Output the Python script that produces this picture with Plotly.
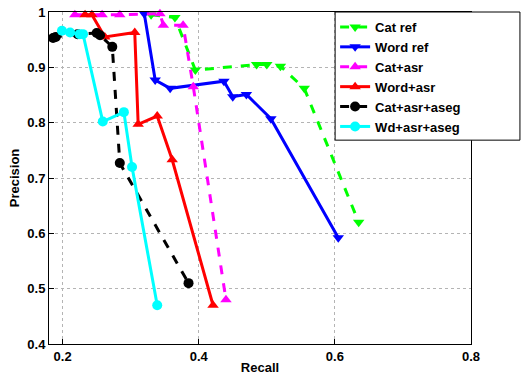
import plotly.graph_objects as go

# Data (Recall, Precision)
cat_ref_x = [0.33, 0.365, 0.395, 0.485, 0.50, 0.52, 0.555, 0.635]
cat_ref_y = [0.995, 0.99, 0.895, 0.905, 0.905, 0.902, 0.862, 0.62]

word_ref_x = [0.32, 0.336, 0.358, 0.437, 0.45, 0.47, 0.506, 0.605]
word_ref_y = [0.997, 0.877, 0.862, 0.875, 0.847, 0.851, 0.807, 0.592]

cat_asr_x = [0.218, 0.258, 0.284, 0.343, 0.348, 0.377, 0.392, 0.44]
cat_asr_y = [0.995, 0.995, 0.995, 0.997, 0.976, 0.976, 0.865, 0.48]

word_asr_x = [0.233, 0.243, 0.262, 0.306, 0.311, 0.339, 0.361, 0.421]
word_asr_y = [0.995, 0.995, 0.955, 0.963, 0.797, 0.812, 0.733, 0.47]

cat_aseg_x = [0.186, 0.19, 0.222, 0.25, 0.255, 0.273, 0.284, 0.385]
cat_aseg_y = [0.953, 0.955, 0.96, 0.962, 0.958, 0.937, 0.727, 0.51]

wd_aseg_x = [0.199, 0.211, 0.225, 0.23, 0.259, 0.29, 0.302, 0.339]
wd_aseg_y = [0.966, 0.963, 0.96, 0.96, 0.802, 0.819, 0.72, 0.47]

x_ticks = [0.2, 0.4, 0.6, 0.8]
x_tick_labels = ["0.2", "0.4", "0.6", "0.8"]
y_ticks = [0.4, 0.5, 0.6, 0.7, 0.8, 0.9, 1.0]
y_tick_labels = ["0.4", "0.5", "0.6", "0.7", "0.8", "0.9", "1"]

series = [
    ("Cat ref", cat_ref_x, cat_ref_y, "#00FF00", "dash", "triangle-down"),
    ("Word ref", word_ref_x, word_ref_y, "#0000FF", "solid", "triangle-down"),
    ("Cat+asr", cat_asr_x, cat_asr_y, "#FF00FF", "dash", "triangle-up"),
    ("Word+asr", word_asr_x, word_asr_y, "#FF0000", "solid", "triangle-up"),
    ("Cat+asr+aseg", cat_aseg_x, cat_aseg_y, "#000000", "dash", "circle"),
    ("Wd+asr+aseg", wd_aseg_x, wd_aseg_y, "#00FFFF", "solid", "circle"),
]

fig = go.Figure()
for name, xs, ys, color, dash, sym in series:
    fig.add_trace(go.Scatter(
        x=xs, y=ys, name=name, mode="lines+markers",
        line=dict(color=color, width=3, dash=dash),
        marker=dict(symbol=sym, size=10, color=color, line=dict(width=0)),
        cliponaxis=False,
    ))

font_family = "Arial, Liberation Sans, sans-serif"
axis_common = dict(
    showline=True, linecolor="black", linewidth=1, mirror=True,
    ticks="inside", ticklen=5, tickcolor="black",
    showgrid=True, gridcolor="#b4b4b4", griddash="dot", gridwidth=1,
    zeroline=False, ticklabeloverflow="allow",
    tickfont=dict(family=font_family, size=13, color="black", weight="bold"),
)

# legend frame (white box with black border, extending past the plot's right edge)
fig.add_shape(
    type="rect", xref="paper", yref="paper",
    x0=0.678, x1=1.116, y0=0.614, y1=1.0,
    fillcolor="white", line=dict(color="black", width=1), layer="above",
)

fig.update_layout(
    width=523, height=377,
    margin=dict(l=49, r=52, t=12, b=33, autoexpand=False),
    paper_bgcolor="white", plot_bgcolor="white",
    font=dict(family=font_family, color="black"),
    showlegend=True,
    legend=dict(
        x=0.678, y=1.0, xanchor="left", yanchor="top",
        bgcolor="rgba(0,0,0,0)", borderwidth=0,
        font=dict(family=font_family, size=13, color="black", weight="bold"),
        tracegroupgap=0, itemwidth=30,
    ),
    xaxis=dict(
        range=[0.18, 0.8], tickvals=x_ticks, ticktext=x_tick_labels,
        title=dict(text="Recall", font=dict(family=font_family, size=13, weight="bold"), standoff=0),
        **axis_common,
    ),
    yaxis=dict(
        range=[0.4, 1.0], tickvals=y_ticks, ticktext=y_tick_labels,
        title=dict(text="Precision", font=dict(family=font_family, size=13, weight="bold"), standoff=4),
        **axis_common,
    ),
)

fig.write_html(
    "out.html",
    config={"displayModeBar": False},
    post_script="document.body.style.margin='0px';",
)
